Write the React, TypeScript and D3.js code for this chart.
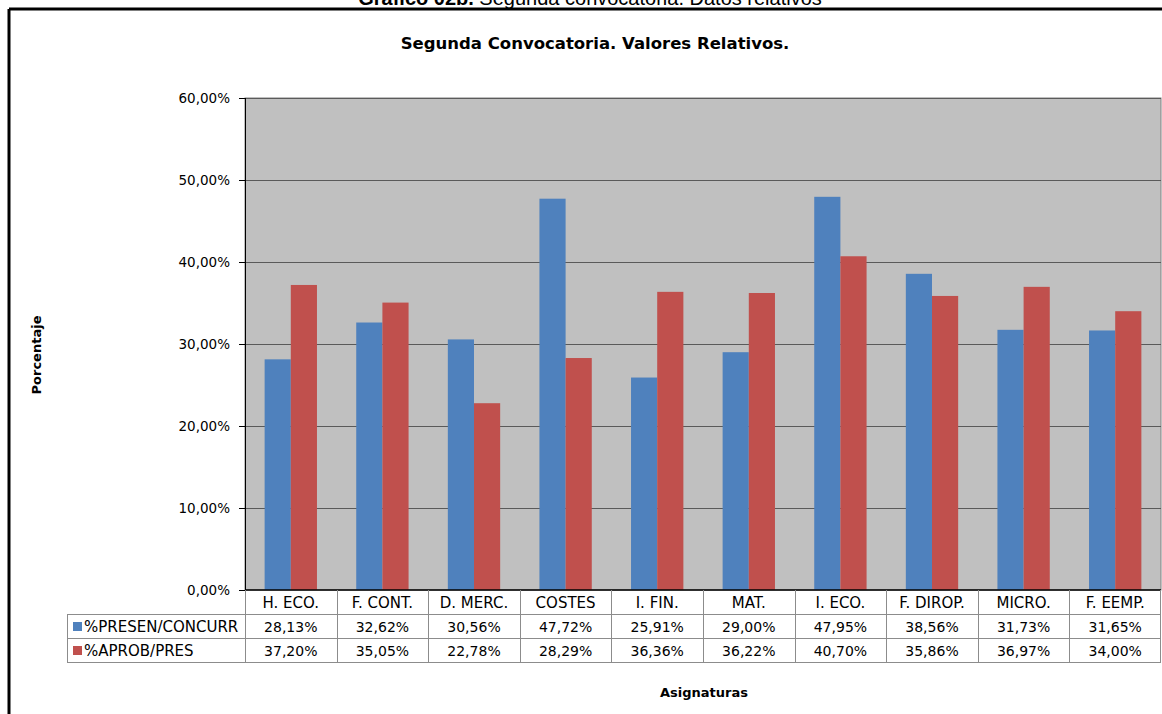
import React from "react";
import * as d3 from "d3";

const categories = ["H. ECO.", "F. CONT.", "D. MERC.", "COSTES", "I. FIN.", "MAT.", "I. ECO.", "F. DIROP.", "MICRO.", "F. EEMP."];
const seriesNames = ["%PRESEN/CONCURR", "%APROB/PRES"];
const presenConcurr = [28.13, 32.62, 30.56, 47.72, 25.91, 29.0, 47.95, 38.56, 31.73, 31.65];
const aprobPres = [37.2, 35.05, 22.78, 28.29, 36.36, 36.22, 40.7, 35.86, 36.97, 34.0];
const yTicks = [0, 10, 20, 30, 40, 50, 60];
const colors = ["#4F81BD", "#C0504D"];

const W = 1162;
const H = 714;
const plotLeft = 245;
const plotRight = 1161;
const plotTop = 98;
const plotBottom = 590;
const rowH = 24;
const tableLeft = 67;
const font = "'DejaVu Sans', sans-serif";

const fmt = (v: number) => v.toFixed(2).replace(".", ",") + "%";

export default function App() {
  const x = d3.scaleBand<string>().domain(categories).range([plotLeft, plotRight]).paddingInner(0).paddingOuter(0);
  const gap = 1.5;
  const barW = x.bandwidth() / (2 + gap);
  const off = (barW * gap) / 2;
  const inner = d3.scaleBand<string>().domain(seriesNames).range([off, off + 2 * barW]).padding(0);
  const y = d3.scaleLinear().domain([0, 60]).range([plotBottom, plotTop]);
  const series = [presenConcurr, aprobPres];

  const tableRows = [plotBottom, plotBottom + rowH, plotBottom + 2 * rowH, plotBottom + 3 * rowH];

  return (
    <svg width={W} height={H} style={{ position: "absolute", left: 0, top: 0, background: "#fff" }}>
      {/* outer frame */}
      <line x1={9} y1={9} x2={W + 5} y2={9} stroke="#000" strokeWidth={3} />
      <line x1={9} y1={9} x2={9} y2={H + 5} stroke="#000" strokeWidth={3} />
      {/* clipped document caption */}
      <text x={590} y={5} textAnchor="middle" fontFamily="'Liberation Sans', Arial, sans-serif" fontSize={20} fill="#000">
        <tspan fontWeight="bold">Gráfico 02b.</tspan>
        <tspan> Segunda convocatoria. Datos relativos</tspan>
      </text>
      {/* chart title */}
      <text x={595} y={49} textAnchor="middle" fontFamily={font} fontSize={16.5} fontWeight="bold" fill="#000">
        Segunda Convocatoria. Valores Relativos.
      </text>
      {/* plot area */}
      <rect x={plotLeft} y={plotTop} width={plotRight - plotLeft} height={plotBottom - plotTop} fill="#C0C0C0" stroke="#808080" strokeWidth={1} />
      {yTicks.map((t) => (
        <g key={t}>
          {t > 0 && <line x1={plotLeft} x2={plotRight} y1={Math.round(y(t)) + 0.5} y2={Math.round(y(t)) + 0.5} stroke="#5a5a5a" strokeWidth={1} />}
          <line x1={plotLeft - 6} x2={plotLeft} y1={Math.round(y(t)) + 0.5} y2={Math.round(y(t)) + 0.5} stroke="#000" strokeWidth={1} />
          <text x={plotLeft - 15} y={y(t) + 5} textAnchor="end" fontFamily={font} fontSize={13.5} fill="#000">
            {fmt(t)}
          </text>
        </g>
      ))}
      {/* bars */}
      {categories.map((c, i) => (
        <g key={c}>
          {series.map((s, j) => (
            <rect
              key={j}
              x={(x(c) as number) + (inner(seriesNames[j]) as number)}
              y={y(s[i])}
              width={inner.bandwidth()}
              height={plotBottom - y(s[i])}
              fill={colors[j]}
            />
          ))}
        </g>
      ))}
      {/* axes */}
      <line x1={plotLeft + 0.5} x2={plotLeft + 0.5} y1={plotTop} y2={plotBottom} stroke="#000" strokeWidth={1} />
      <line x1={plotLeft} x2={plotRight} y1={plotBottom} y2={plotBottom} stroke="#000" strokeWidth={1.5} />
      {/* data table */}
      <g stroke="#8c8c8c" strokeWidth={1} fill="none">
        {[1, 2, 3].map((r) => (
          <line key={r} x1={plotLeft} x2={plotRight} y1={tableRows[r] + 0.5} y2={tableRows[r] + 0.5} />
        ))}
        <line x1={tableLeft} x2={plotLeft} y1={tableRows[1] + 0.5} y2={tableRows[1] + 0.5} />
        <line x1={tableLeft} x2={plotLeft} y1={tableRows[2] + 0.5} y2={tableRows[2] + 0.5} />
        <line x1={tableLeft} x2={plotLeft} y1={tableRows[3] + 0.5} y2={tableRows[3] + 0.5} />
        <line x1={tableLeft + 0.5} x2={tableLeft + 0.5} y1={tableRows[1]} y2={tableRows[3]} />
        {categories.map((c) => (
          <line key={c} x1={Math.round(x(c) as number) + 0.5} x2={Math.round(x(c) as number) + 0.5} y1={plotBottom} y2={tableRows[3]} />
        ))}
        <line x1={plotRight - 0.5} x2={plotRight - 0.5} y1={plotBottom} y2={tableRows[3]} />
      </g>
      {categories.map((c, i) => (
        <g key={c} fontFamily={font} fill="#000" textAnchor="middle">
          <text x={(x(c) as number) + x.bandwidth() / 2} y={tableRows[0] + 18} fontSize={15}>{c}</text>
          <text x={(x(c) as number) + x.bandwidth() / 2} y={tableRows[1] + 18} fontSize={14}>{fmt(presenConcurr[i])}</text>
          <text x={(x(c) as number) + x.bandwidth() / 2} y={tableRows[2] + 18} fontSize={14}>{fmt(aprobPres[i])}</text>
        </g>
      ))}
      {seriesNames.map((n, j) => (
        <g key={n}>
          <rect x={tableLeft + 6} y={tableRows[j + 1] + 8} width={9} height={9} fill={colors[j]} />
          <text x={tableLeft + 17} y={tableRows[j + 1] + 18} fontFamily={font} fontSize={15} fill="#000">{n}</text>
        </g>
      ))}
      {/* axis titles */}
      <text x={704} y={697} textAnchor="middle" fontFamily={font} fontSize={13} fontWeight="bold" fill="#000">Asignaturas</text>
      <text transform="translate(41,355) rotate(-90)" textAnchor="middle" fontFamily={font} fontSize={13} fontWeight="bold" fill="#000">Porcentaje</text>
    </svg>
  );
}
